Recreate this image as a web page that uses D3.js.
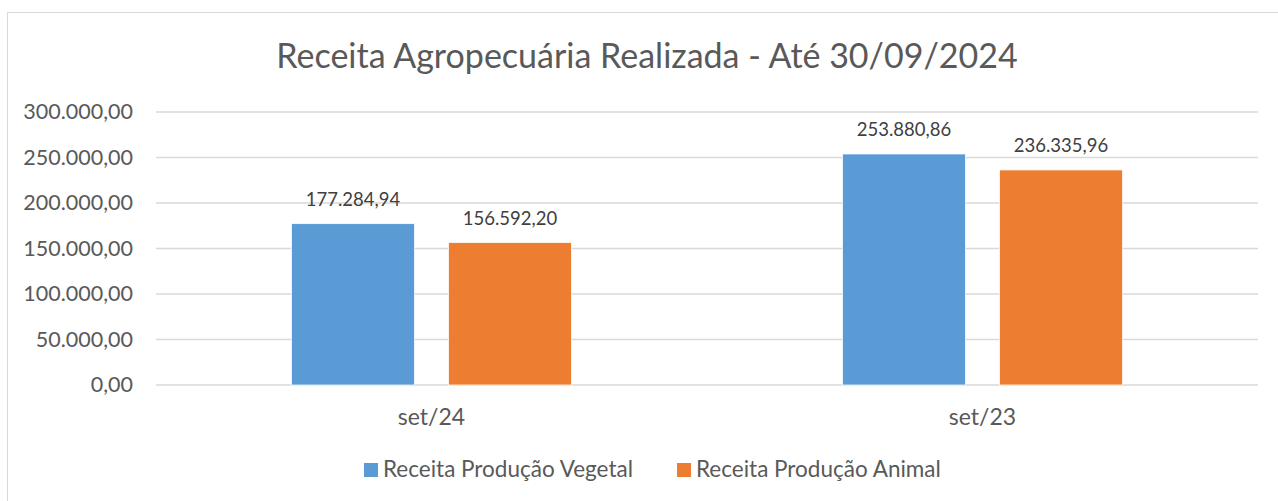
<!DOCTYPE html>
<html>
<head>
<meta charset="utf-8">
<script src="https://cdn.jsdelivr.net/npm/d3@7"></script>
<style>
  body { margin: 0; background: #fff; }
  text { font-family: Lato, "Open Sans", sans-serif; }
</style>
</head>
<body>
<div id="chart"></div>
<script>
var categories = ["set/24", "set/23"];
var seriesNames = ["Receita Produção Vegetal", "Receita Produção Animal"];
var vegetal = [177284.94, 253880.86];
var animal = [156592.20, 236335.96];
var yTicks = [0, 50000, 100000, 150000, 200000, 250000, 300000];
var colors = ["#5B9BD5", "#ED7D31"];

var svgWidth = 1278;
var svgHeight = 501;
var margin = { top: 112, right: 20, bottom: 116, left: 156 };
var width = 1258 - margin.left;
var height = 385 - margin.top;

var svg = d3.select("#chart").append("svg")
  .attr("width", svgWidth)
  .attr("height", svgHeight);

// chart frame (runs off the right and bottom edges)
svg.append("rect")
  .attr("x", 7.5).attr("y", 12.5)
  .attr("width", svgWidth + 20).attr("height", svgHeight + 20)
  .attr("fill", "#fff")
  .attr("stroke", "#d9d9d9");

svg.append("text")
  .attr("x", 647).attr("y", 68)
  .attr("text-anchor", "middle")
  .attr("font-size", "34px")
  .attr("fill", "#595959")
  .text("Receita Agropecuária Realizada - Até 30/09/2024");

var g = svg.append("g")
  .attr("transform", `translate(${margin.left}, ${margin.top})`);

var data = categories.map((c, i) => ({ cat: c, values: [vegetal[i], animal[i]] }));

var x0 = d3.scaleBand().domain(categories).range([0, width]).padding(0);
var x1 = d3.scaleBand().domain([0, 1]).range([0, x0.bandwidth()])
  .paddingInner(0.2166).paddingOuter(0.863);
var y = d3.scaleLinear().domain([0, 300000]).range([height, 0]);

var fmt = d3.formatLocale({ decimal: ",", thousands: ".", grouping: [3], currency: ["R$", ""] }).format(",.2f");

// gridlines
g.selectAll(".grid")
  .data(yTicks)
  .enter().append("line")
  .attr("x1", 0).attr("x2", width)
  .attr("y1", d => y(d)).attr("y2", d => y(d))
  .attr("stroke", "#d9d9d9")
  .attr("stroke-width", 1.5);

// y axis labels
var yAxis = g.append("g")
  .call(d3.axisLeft(y).tickValues(yTicks).tickFormat(fmt).tickSize(0).tickPadding(23));
yAxis.select(".domain").remove();
yAxis.selectAll("text")
  .attr("font-size", "21.5px")
  .attr("fill", "#595959")
  .style("font-family", "Lato, sans-serif");

// x axis labels
var xAxis = g.append("g")
  .attr("transform", `translate(0, ${height})`)
  .call(d3.axisBottom(x0).tickSize(0).tickPadding(24));
xAxis.select(".domain").remove();
xAxis.selectAll("text")
  .attr("font-size", "23px")
  .attr("fill", "#595959")
  .style("font-family", "Lato, sans-serif");

// bars
var groups = g.selectAll(".cat")
  .data(data)
  .enter().append("g")
  .attr("transform", d => `translate(${x0(d.cat)}, 0)`);

groups.selectAll("rect")
  .data(d => d.values.map((v, i) => ({ i: i, v: v })))
  .enter().append("rect")
  .attr("x", d => x1(d.i))
  .attr("y", d => y(d.v))
  .attr("width", x1.bandwidth())
  .attr("height", d => height - y(d.v))
  .attr("fill", d => colors[d.i])
  .attr("stroke", "#fff")
  .attr("stroke-width", 0.75);

groups.selectAll(".lbl")
  .data(d => d.values.map((v, i) => ({ i: i, v: v })))
  .enter().append("text")
  .attr("x", d => x1(d.i) + x1.bandwidth() / 2)
  .attr("y", d => y(d.v) - 18)
  .attr("text-anchor", "middle")
  .attr("font-size", "18.5px")
  .attr("fill", "#404040")
  .text(d => fmt(d.v));

// legend
var legend = svg.append("g");
var legendX = [364, 677];
seriesNames.forEach(function(name, i) {
  legend.append("rect")
    .attr("x", legendX[i]).attr("y", 463)
    .attr("width", 14).attr("height", 14)
    .attr("fill", colors[i]);
  legend.append("text")
    .attr("x", legendX[i] + 19).attr("y", 477)
    .attr("font-size", "22.5px")
    .attr("fill", "#595959")
    .text(name);
});
</script>
</body>
</html>
